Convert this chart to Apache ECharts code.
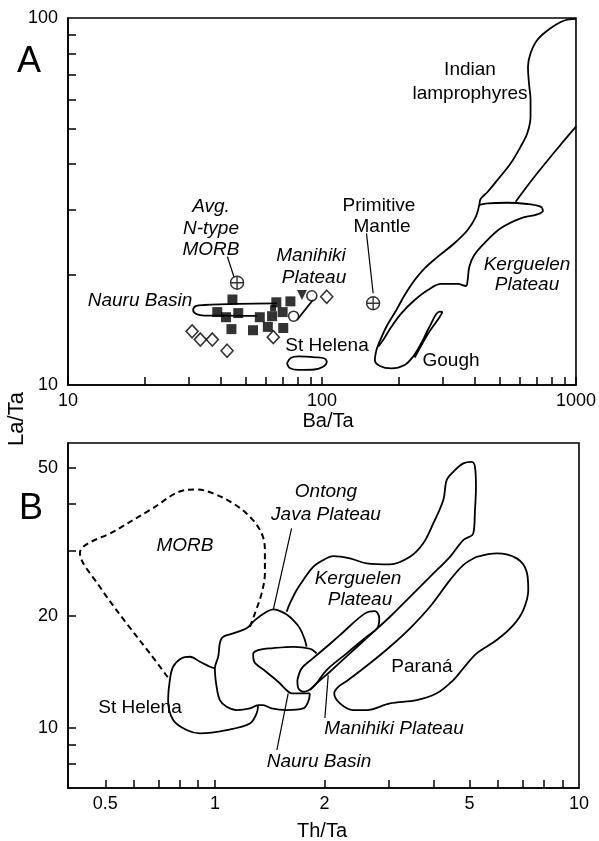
<!DOCTYPE html>
<html>
<head>
<meta charset="utf-8">
<script src="https://cdn.jsdelivr.net/npm/echarts@6/dist/echarts.min.js"></script>
<style>
  html, body { margin: 0; padding: 0; background: #fff; }
  #chart { width: 599px; height: 841px; }
</style>
</head>
<body>
<div id="chart"></div>
<script>
// ---------------- Panel A: La/Ta vs Ba/Ta ----------------
const baTaRange = [10, 1000];
const laTaRangeA = [10, 100];
const baTaTicks = [10, 20, 30, 40, 50, 60, 70, 80, 90, 100, 200, 300, 400, 500, 600, 700, 800, 900, 1000];
const baTaLabels = [10, 100, 1000];
const laTaTicksA = [20, 30, 40, 50, 60, 70, 80, 90];
const laTaLabelsA = [10, 100];

// Sample points [Ba/Ta, La/Ta]
const filledSquares = [[44.4, 17.1], [38.7, 15.8], [41.9, 15.3], [46.8, 15.7], [44.0, 14.2], [53.5, 14.1],
  [56.9, 15.3], [61.2, 14.4], [63.6, 15.4], [70.4, 14.3], [66.1, 16.8], [75.1, 16.9], [70.0, 15.8]];
const smallSquares = [[64.2, 16.2]];
const filledTriangles = [[83.4, 17.6]];
const openCircles = [[91.2, 17.5], [77.3, 15.4]];
const openDiamonds = [[30.8, 14.0], [33.2, 13.3], [37.0, 13.3], [42.3, 12.4], [64.3, 13.5], [104.4, 17.4]];
const avgNMorb = [[46.3, 19.0]];
const primitiveMantle = [[159, 16.7]];

// Field outlines [Ba/Ta, La/Ta]
const lamprophyreOuter = [[231.7, 11.88], [261.1, 13.77], [297.6, 15.81], [290.1, 15.84], [265.1, 14.41],
  [245.8, 12.99], [228.1, 11.94], [211.6, 11.34], [187.6, 11.10], [169.0, 11.27], [161.5, 11.70],
  [163.8, 12.45], [166.4, 12.85], [179.3, 14.41], [196.3, 16.01], [211.6, 17.59], [231.7, 19.32],
  [253.5, 20.80], [285.8, 22.37], [332.1, 24.33], [374.5, 26.44], [403.6, 28.74], [416.2, 30.94],
  [421.1, 32.13], [448.5, 33.57], [490.8, 36.19], [553.4, 40.19], [605.4, 44.60], [643.0, 48.51],
  [662.4, 53.85], [662.4, 59.79], [653.0, 66.40], [647.2, 73.67], [662.4, 80.13], [703.9, 87.14],
  [793.3, 93.74], [895.0, 98.3], [1000, 99.4]];
const lamprophyreInner = [[1000, 50.56], [868.2, 45.08], [747.6, 39.77], [662.4, 35.81], [578.8, 31.59]];
const kerguelenA = [[416.2, 30.94], [448.5, 31.26], [537.0, 31.38], [643.0, 31.13], [725.2, 30.61],
  [741.0, 29.85], [703.9, 29.18], [605.4, 28.46], [505.3, 26.73], [435.3, 24.33], [397.8, 22.61],
  [380.2, 21.01], [374.5, 19.32], [368.7, 18.61], [342.1, 18.85], [294.4, 18.85], [261.1, 18.15],
  [231.7, 17.04], [205.3, 15.68], [187.6, 14.41], [174.1, 13.26], [166.4, 12.72]];
const stHelenaA = [[72.8, 11.46], [75.3, 11.85], [80.9, 11.96], [94.1, 11.90], [102.3, 11.81], [104.4, 11.55],
  [100.5, 11.19], [93.5, 11.02], [80.9, 10.99], [74.6, 11.13], [72.8, 11.46]];
const nauruA = [[66.5, 16.68], [47.1, 16.63], [34.4, 16.52], [32.0, 16.42], [31.1, 16.01], [32.0, 15.61],
  [34.4, 15.46], [40.1, 15.46], [55.4, 15.42]];
const manihikiA = [[92.6, 17.13], [79.7, 15.04]];
const morbLeaderA = [[42.4, 22.37], [45.0, 19.73]];
const pmLeaderA = [[149.7, 25.9], [159, 17.78]];

// ---------------- Panel B: La/Ta vs Th/Ta ----------------
const thTaRange = [0.395, 10];
const laTaRangeB = [6.9, 58.4];
const thTaTicks = [0.5, 0.6, 0.7, 0.8, 0.9, 1, 2, 3, 4, 5, 6, 7, 8, 9];
const thTaLabels = [0.5, 1, 2, 5, 10];
const laTaTicksB = [8, 9, 10, 20, 30, 40, 50];
const laTaLabelsB = [10, 20, 50];

// Field outlines [Th/Ta, La/Ta]
const morbB = [[1.248, 18.72], [1.288, 20.34], [1.344, 23.02], [1.372, 26.06], [1.372, 30.10], [1.344, 33.38],
  [1.248, 36.98], [1.123, 40.18], [0.989, 42.75], [0.891, 43.82], [0.827, 43.63], [0.663, 38.55],
  [0.537, 34.07], [0.426, 29.54], [0.483, 23.98], [0.572, 19.12], [0.663, 15.88], [0.752, 13.46]];
const stHelenaB = [[1.000, 14.47], [0.969, 14.62], [0.910, 15.08], [0.854, 15.55], [0.810, 15.40],
  [0.768, 14.62], [0.752, 13.46], [0.744, 11.89], [0.768, 10.51], [0.836, 9.88], [0.910, 9.68],
  [1.077, 9.88], [1.248, 10.29], [1.302, 10.95], [1.315, 11.53]];
const ontongJavaB = [[1.786, 16.54], [1.767, 17.24], [1.712, 18.54], [1.641, 19.51], [1.557, 20.34],
  [1.446, 20.85], [1.387, 20.54], [1.288, 19.51], [1.222, 18.54], [1.123, 17.97], [1.043, 17.42],
  [1.021, 15.55], [1.000, 14.47], [1.011, 12.91], [1.032, 11.89], [1.077, 11.41], [1.147, 11.18],
  [1.248, 11.29], [1.315, 11.53], [1.357, 11.53], [1.432, 11.29], [1.574, 11.18], [1.748, 11.29],
  [1.804, 11.77], [1.824, 12.40]];
const nauruB = [[1.903, 15.88], [1.824, 16.34], [1.641, 16.54], [1.446, 16.41], [1.315, 16.21], [1.274, 15.81],
  [1.282, 15.08], [1.372, 14.26], [1.492, 13.32], [1.580, 12.60], [1.624, 12.40], [1.824, 12.40]];
const manihikiB = [[1.685, 13.46], [1.731, 14.47], [1.844, 15.30], [2.027, 16.54], [2.205, 17.78],
  [2.583, 20.34], [2.752, 20.63], [2.828, 19.72], [2.792, 18.54], [2.611, 17.60], [2.301, 15.88],
  [2.027, 14.32], [1.862, 12.91], [1.748, 12.52], [1.694, 12.81], [1.685, 13.46]];
const kerguelenB = [[1.574, 20.54], [1.607, 21.63], [1.677, 23.50], [1.748, 24.99], [1.862, 27.14],
  [1.984, 28.29], [2.113, 29.00], [2.349, 28.59], [2.611, 27.72], [3.026, 27.54], [3.434, 28.87],
  [3.735, 31.38], [3.979, 35.50], [4.240, 41.02], [4.331, 46.42], [4.516, 48.87], [4.810, 51.47],
  [5.073, 51.98], [5.180, 50.40], [5.212, 44.54], [5.180, 38.55], [5.125, 33.38], [4.810, 32.03],
  [4.422, 28.87], [3.896, 25.51], [3.434, 22.54], [3.026, 19.92], [2.666, 17.78], [2.349, 15.88],
  [2.070, 14.17], [1.903, 13.19], [1.824, 12.65]];
const paranaB = [[5.236, 28.87], [5.941, 29.49], [6.744, 28.59], [7.183, 26.32], [7.256, 23.50], [7.031, 20.76],
  [6.600, 18.92], [5.941, 17.24], [5.236, 15.88], [4.810, 14.47], [4.516, 13.46], [4.066, 12.40],
  [3.582, 11.89], [3.026, 11.65], [2.611, 11.18], [2.399, 11.18], [2.205, 11.65], [2.127, 12.40],
  [2.182, 12.91], [2.323, 13.46], [2.666, 14.93], [3.026, 16.54], [3.434, 18.54], [3.896, 21.19],
  [4.422, 24.99], [4.810, 27.43], [5.236, 28.87]];
const ontongJavaLeaderB = [[1.624, 34.42], [1.446, 20.76]];
const manihikiLeaderB = [[2.048, 13.88], [2.005, 10.64]];
const nauruLeaderB = [[1.590, 12.40], [1.480, 8.73]];

// ---------------- Drawing ----------------
const FONT = '"Liberation Sans", Arial, Helvetica, sans-serif';
const lg = v => Math.log10(v);
const toLog = pts => pts.map(p => [lg(p[0]), lg(p[1])]);
const fmt = v => String(+Math.pow(10, v).toPrecision(4));

function axis(gi, range, ticks, labels, isX) {
  return {
    type: 'value', gridIndex: gi,
    min: lg(range[0]), max: lg(range[1]),
    splitLine: { show: false },
    axisLine: { show: true, onZero: false, lineStyle: { color: '#000', width: 1.6 } },
    axisTick: { show: true, inside: true, length: 8, customValues: ticks.map(lg),
      lineStyle: { color: '#000', width: 1.5 } },
    axisLabel: { show: true, customValues: labels.map(lg), formatter: fmt, color: '#000',
      fontSize: 18, fontFamily: FONT, margin: isX ? 7 : 10 }
  };
}

function outline(pts, gi, extra) {
  return Object.assign({
    type: 'line', xAxisIndex: gi, yAxisIndex: gi, data: toLog(pts),
    smooth: 0.35, symbol: 'none', silent: true, z: 2,
    lineStyle: { color: '#000', width: 1.8 }
  }, extra || {});
}

function leader(pts, gi) {
  return outline(pts, gi, { smooth: false, lineStyle: { color: '#000', width: 1.2 } });
}

function points(pts, symbol, size, filled, extra) {
  return Object.assign({
    type: 'scatter', xAxisIndex: 0, yAxisIndex: 0, data: toLog(pts),
    symbol: symbol, symbolSize: size, silent: true, z: 5,
    itemStyle: { color: filled ? '#000' : '#fff', borderColor: '#000', borderWidth: filled ? 0 : 1.6 }
  }, extra || {});
}

const crossCircle = 'path://M2,12 A10,10 0 1,1 22,12 A10,10 0 1,1 2,12 Z M12,2 L12,22 M2,12 L22,12';

function label(text, x, y, size, italic, rotation) {
  return {
    type: 'text', x: x, y: y, rotation: rotation || 0, silent: true, z: 10,
    style: { text: text, fill: '#000', align: 'center', verticalAlign: 'middle',
      fontFamily: FONT, fontSize: size, fontStyle: italic ? 'italic' : 'normal' }
  };
}

const chart = echarts.init(document.getElementById('chart'), null, { renderer: 'canvas' });
chart.setOption({
  animation: false,
  backgroundColor: '#fff',
  grid: [
    { left: 68, top: 18, width: 511, height: 367, show: true, borderColor: '#000', borderWidth: 1.6, backgroundColor: 'transparent' },
    { left: 68, top: 443, width: 511, height: 345, show: true, borderColor: '#000', borderWidth: 1.6, backgroundColor: 'transparent' }
  ],
  xAxis: [
    axis(0, baTaRange, baTaTicks, baTaLabels, true),
    axis(1, thTaRange, thTaTicks, thTaLabels, true)
  ],
  yAxis: [
    axis(0, laTaRangeA, laTaTicksA, laTaLabelsA, false),
    axis(1, laTaRangeB, laTaTicksB, laTaLabelsB, false)
  ],
  series: [
    outline(lamprophyreOuter, 0),
    outline(lamprophyreInner, 0),
    outline(kerguelenA, 0),
    outline(stHelenaA, 0),
    outline(nauruA, 0),
    outline(manihikiA, 0, { smooth: false }),
    leader(morbLeaderA, 0),
    leader(pmLeaderA, 0),
    points(filledSquares, 'rect', 10, true),
    points(smallSquares, 'rect', 6, true),
    points(filledTriangles, 'triangle', 10, true, { symbolRotate: 180 }),
    points(openCircles, 'circle', 10, false),
    points(openDiamonds, 'diamond', [12, 13], false),
    points(avgNMorb, crossCircle, 13, false, { itemStyle: { color: '#fff', borderColor: '#000', borderWidth: 1.4 } }),
    points(primitiveMantle, crossCircle, 13, false, { itemStyle: { color: '#fff', borderColor: '#000', borderWidth: 1.4 } }),

    outline(morbB, 1, { lineStyle: { color: '#000', width: 2, type: [6, 4] } }),
    outline(stHelenaB, 1),
    outline(ontongJavaB, 1),
    outline(nauruB, 1),
    outline(manihikiB, 1),
    outline(kerguelenB, 1),
    outline(paranaB, 1),
    leader(ontongJavaLeaderB, 1),
    leader(manihikiLeaderB, 1),
    leader(nauruLeaderB, 1)
  ],
  graphic: { elements: [
    label('A', 29, 62, 36, false),
    label('Indian', 470, 70, 19, false),
    label('lamprophyres', 470, 94, 19, false),
    label('Avg.', 211, 207, 19, true),
    label('N-type', 211, 229, 19, true),
    label('MORB', 211, 250, 19, true),
    label('Manihiki', 311, 256, 19, true),
    label('Plateau', 314, 278, 19, true),
    label('Nauru Basin', 140, 301, 19, true),
    label('Primitive', 379, 206, 19, false),
    label('Mantle', 382, 227, 19, false),
    label('Kerguelen', 527, 265, 19, true),
    label('Plateau', 527, 285, 19, true),
    label('St Helena', 327, 346, 19, false),
    label('Gough', 451, 361, 19, false),
    label('Ba/Ta', 328, 421, 20, false),
    label('La/Ta', 17, 419, 22, false, Math.PI / 2),

    label('B', 31, 509, 36, false),
    label('MORB', 185, 546, 19, true),
    label('Ontong', 326, 492, 19, true),
    label('Java Plateau', 326, 515, 19, true),
    label('Kerguelen', 358, 579, 19, true),
    label('Plateau', 360, 600, 19, true),
    label('Paraná', 422, 667, 19, false),
    label('St Helena', 140, 708, 19, false),
    label('Manihiki Plateau', 394, 729, 19, true),
    label('Nauru Basin', 319, 762, 19, true),
    label('Th/Ta', 322, 831, 20, false)
  ] }
});
</script>
</body>
</html>
